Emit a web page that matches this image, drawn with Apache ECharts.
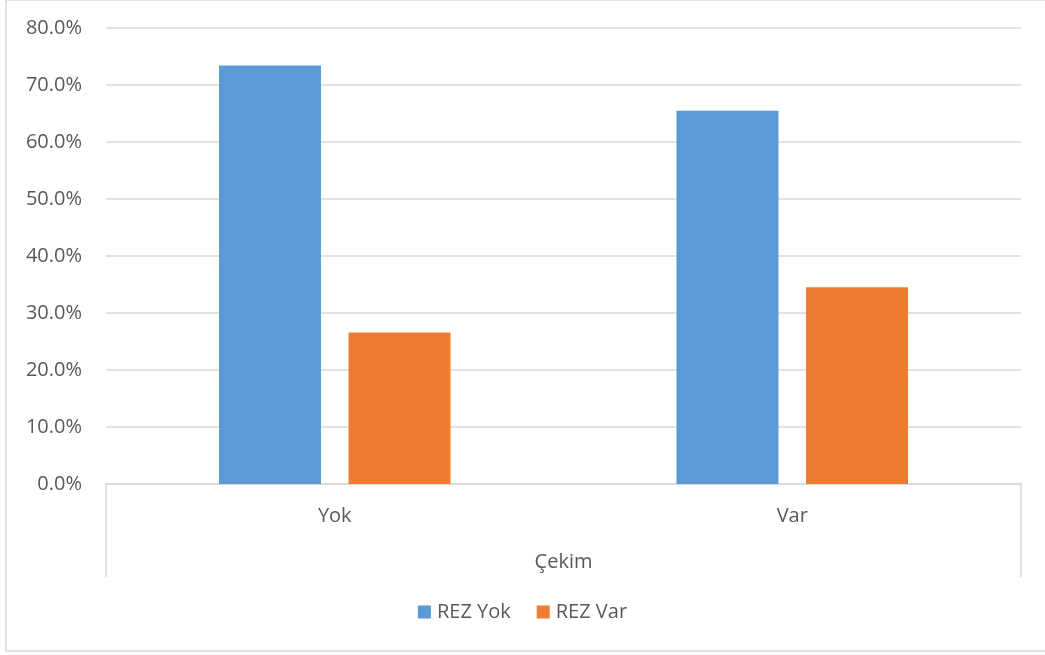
<!DOCTYPE html>
<html>
<head>
<meta charset="utf-8">
<script src="https://cdn.jsdelivr.net/npm/echarts@6/dist/echarts.min.js"></script>
<style>
html,body{margin:0;padding:0;background:#fff;}
#chart{width:1045px;height:655px;}
</style>
</head>
<body>
<div id="chart"></div>
<script>
const categories = ['Yok', 'Var'];
const groupLabel = ['Çekim'];
const seriesNames = ['REZ Yok', 'REZ Var'];
const rezYok = [73.4, 65.5];
const rezVar = [26.6, 34.5];
const colors = ['#5B9BD5', '#ED7D31'];

const font = "'Open Sans', 'Noto Sans', sans-serif";
const chart = echarts.init(document.getElementById('chart'), null, {renderer: 'canvas'});
chart.setOption({
  animation: false,
  textStyle: {fontFamily: font},
  graphic: [{
    type: 'rect',
    shape: {x: 6, y: 0, width: 1060, height: 651},
    style: {fill: 'none', stroke: '#d9d9d9', lineWidth: 1.5},
    silent: true, z: -10
  }],
  grid: {left: 106, right: 24, top: 28, bottom: 171, containLabel: false},
  legend: {
    bottom: 28,
    left: 'center',
    itemWidth: 13, itemHeight: 13, itemGap: 26,
    icon: 'rect',
    textStyle: {fontSize: 20, color: '#595959', fontFamily: font, padding: [0, 0, 0, 1]},
    data: seriesNames
  },
  xAxis: [{
    type: 'category',
    data: categories,
    position: 'bottom',
    axisLine: {show: true, lineStyle: {color: '#d9d9d9', width: 1.5}},
    axisTick: {show: false},
    axisLabel: {fontSize: 20, color: '#595959', margin: 22, fontFamily: font},
    splitLine: {show: false}
  }, {
    type: 'category',
    data: groupLabel,
    position: 'bottom',
    axisLine: {show: false},
    axisTick: {show: true, length: 93, lineStyle: {color: '#d9d9d9', width: 1.5}},
    axisLabel: {fontSize: 20, color: '#595959', margin: 68, fontFamily: font},
    splitLine: {show: false}
  }],
  yAxis: {
    type: 'value',
    min: 0, max: 80, interval: 10,
    axisLine: {show: false},
    axisTick: {show: false},
    axisLabel: {
      fontSize: 20, color: '#595959', margin: 24, fontFamily: font,
      formatter: v => v.toFixed(1) + '%'
    },
    splitLine: {lineStyle: {color: '#d9d9d9', width: 1.5}}
  },
  series: [{
    name: seriesNames[0], type: 'bar', data: rezYok,
    barWidth: 102, barGap: '27%',
    itemStyle: {color: colors[0]}
  }, {
    name: seriesNames[1], type: 'bar', data: rezVar,
    barWidth: 102, barGap: '27%',
    itemStyle: {color: colors[1]}
  }]
});
</script>
</body>
</html>
